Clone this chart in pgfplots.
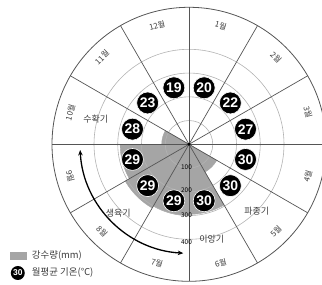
\documentclass[border=0pt]{standalone}
\usepackage{pgfplots}
\pgfplotsset{compat=1.18}
\usepackage{pgfplotstable}
\usepackage{fontspec}
\setmainfont{Noto Sans CJK KR}
\newfontfamily\numfont{Liberation Sans}
\usetikzlibrary{arrows.meta}
\definecolor{raingray}{RGB}{165,165,165}
\definecolor{gridc}{RGB}{178,178,178}
\definecolor{spokec}{RGB}{85,85,85}
\definecolor{labc}{RGB}{60,60,60}

% month, mid-angle (deg), rainfall (mm), mean temperature (C)
\pgfplotstableread{
m ang rain temp
1 75 0 20
2 45 0 22
3 15 0 27
4 -15 0 30
5 -45 135 30
6 -75 295 30
7 -105 300 29
8 -135 310 29
9 -165 290 29
10 165 115 28
11 135 0 23
12 105 0 19
}\climate

\pgfplotsset{polarbox/.style={
  scale only axis, width=322bp, height=285bp,
  xmin=-189, xmax=133, ymin=-140.7, ymax=144.3,
  hide axis, clip=false}}

\begin{document}
\begin{tikzpicture}[
  mlab/.style={font=\fontsize{8}{8}\selectfont, text=labc, inner sep=0pt},
  alab/.style={font=\fontsize{9}{9}\selectfont, text=labc, inner sep=0pt},
  tlab/.style={font=\fontsize{6.5}{6.5}\selectfont, text=black, inner sep=0pt},
  leg/.style={font=\fontsize{9.5}{9.5}\selectfont, text=labc, inner sep=0pt, anchor=west},
]
% ---- layer 1: rainfall wedges
\begin{axis}[polarbox]
\addplot[scatter, only marks, mark=*, mark size=0pt, mark options={draw=none, fill=none},
  point meta=\thisrow{rain},
  visualization depends on={\thisrow{ang} \as \wang},
  visualization depends on={0.2375*\thisrow{rain} \as \wrad},
  scatter/@pre marker code/.code={\scope
    \ifdim\wrad pt>0.1pt
      \fill[raingray] (0bp,0bp) -- (\wang-15:\wrad bp) arc[start angle=\wang-15, delta angle=30, radius=\wrad bp] -- cycle;
    \fi},
  scatter/@post marker code/.code={\endscope},
] table[x expr=0, y expr=0] {\climate};
\end{axis}

% ---- layer 2: grid, temperatures, labels
\begin{axis}[polarbox]
% grid circles
\draw[gridc, line width=0.6bp] (axis cs:0,0) circle[radius=23.75bp];
\draw[gridc, line width=0.6bp] (axis cs:0,0) circle[radius=47.5bp];
\draw[gridc, line width=0.6bp] (axis cs:0,0) circle[radius=71.25bp];
\draw[gridc, line width=0.6bp] (axis cs:0,0) circle[radius=95bp];
\draw[spokec, line width=0.8bp] (axis cs:0,0) circle[radius=137bp];
% spokes
\draw[spokec, line width=0.7bp] (axis cs:0,0) ++(0:137bp) -- ++(180:274bp);
\draw[spokec, line width=0.7bp] (axis cs:0,0) ++(30:137bp) -- ++(210:274bp);
\draw[spokec, line width=0.7bp] (axis cs:0,0) ++(60:137bp) -- ++(240:274bp);
\draw[spokec, line width=0.7bp] (axis cs:0,0) ++(90:137bp) -- ++(270:274bp);
\draw[spokec, line width=0.7bp] (axis cs:0,0) ++(120:137bp) -- ++(300:274bp);
\draw[spokec, line width=0.7bp] (axis cs:0,0) ++(150:137bp) -- ++(330:274bp);
\fill[black] (axis cs:0,0) circle[radius=1.6bp];

% temperature badges
\addplot[only marks, mark=*, mark size=11pt,
  mark options={fill=black, draw=white, line width=0.6bp},
  nodes near coords, point meta=explicit symbolic,
  nodes near coords style={anchor=center, text=white, inner sep=0pt,
    font=\numfont\fontsize{14}{14}\selectfont\bfseries},
] table[x expr={58.5*cos(\thisrow{ang})}, y expr={58.5*sin(\thisrow{ang})}, meta=temp] {\climate};

% rainfall scale labels
\node[tlab] at (axis cs:-2.5,-22.4) {100};
\node[tlab] at (axis cs:-2.5,-45.7) {200};
\node[tlab] at (axis cs:-2.5,-70.7) {300};
\node[tlab] at (axis cs:-2.5,-97.4) {400};

% month labels
\path (axis cs:0,0) ++(75:123bp) node[mlab, rotate=-15] {1월};
\path (axis cs:0,0) ++(45:123bp) node[mlab, rotate=-45] {2월};
\path (axis cs:0,0) ++(15:123bp) node[mlab, rotate=-75] {3월};
\path (axis cs:0,0) ++(-15:123bp) node[mlab, rotate=75] {4월};
\path (axis cs:0,0) ++(-45:123bp) node[mlab, rotate=45] {5월};
\path (axis cs:0,0) ++(-75:123bp) node[mlab, rotate=15] {6월};
\path (axis cs:0,0) ++(-105:123bp) node[mlab, rotate=-15] {7월};
\path (axis cs:0,0) ++(-135:123bp) node[mlab, rotate=-45] {8월};
\path (axis cs:0,0) ++(-165:123bp) node[mlab, rotate=-75] {9월};
\path (axis cs:0,0) ++(165:123bp) node[mlab, rotate=75] {10월};
\path (axis cs:0,0) ++(135:123bp) node[mlab, rotate=45] {11월};
\path (axis cs:0,0) ++(105:123bp) node[mlab, rotate=15] {12월};

% stage annotations
\node[alab] at (axis cs:-93.2,25.3) {수확기};
\node[alab] at (axis cs:-70.7,-68.5) {생육기};
\node[alab] at (axis cs:67.8,-66.7) {파종기};
\node[alab] at (axis cs:22.8,-95.2) {이앙기};
\draw[black, line width=1.3bp, {Stealth[length=5.5bp,width=4.5bp]}-{Stealth[length=5.5bp,width=4.5bp]}]
  (axis cs:0,0) ++(183:109bp) arc[start angle=183, end angle=267, radius=109bp];

% legend
\fill[raingray] (axis cs:-179,-107.6) rectangle (axis cs:-161.7,-115.8);
\node[leg] at (axis cs:-157.3,-111.7) {강수량(mm)};
\fill[black] (axis cs:-171.2,-128.7) circle[radius=7bp];
\node[text=white, inner sep=0pt, font=\numfont\fontsize{8.5}{8.5}\selectfont\bfseries] at (axis cs:-171.2,-128.7) {30};
\node[leg] at (axis cs:-157.3,-128.7) {월평균 기온(℃)};
\end{axis}
\pgfresetboundingbox
\path[use as bounding box] (current axis.south west) rectangle (current axis.north east);
\end{tikzpicture}
\end{document}
